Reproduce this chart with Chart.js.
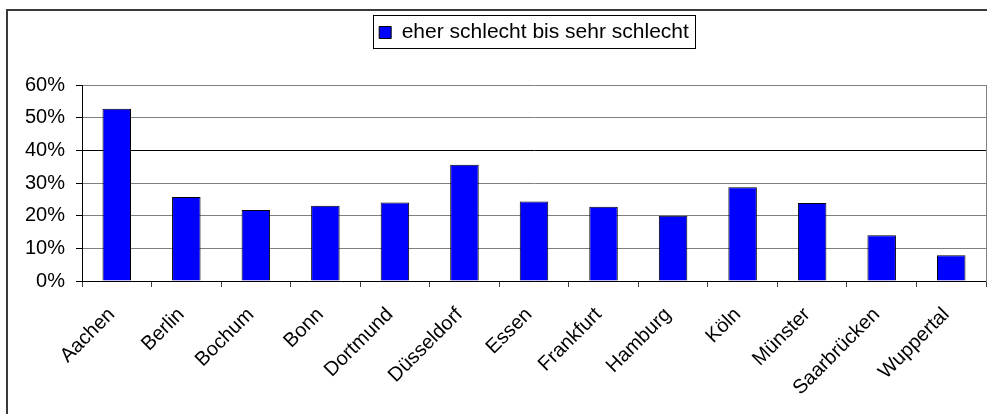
<!DOCTYPE html>
<html>
<head>
<meta charset="utf-8">
<script src="https://cdn.jsdelivr.net/npm/chart.js@4/dist/chart.umd.min.js"></script>
<style>
    html, body { margin: 0; padding: 0; background: #fff; overflow: hidden; }
    #wrap { position: relative; width: 987px; height: 414px; }
    #frame {
        position: absolute; left: 6px; top: 9px; width: 1100px; height: 500px;
        border-left: 2px solid #3a3a3a; border-top: 2px solid #3a3a3a;
        pointer-events: none;
    }
    #chart-box { position: absolute; left: 0; top: 0; width: 987px; height: 414px; }
</style>
</head>
<body>
<div id="wrap">
    <div id="frame"></div>
    <div id="chart-box"><canvas id="chart"></canvas></div>
</div>
<script>
    'use strict';

    const cities = ['Aachen', 'Berlin', 'Bochum', 'Bonn', 'Dortmund', 'Düsseldorf', 'Essen',
        'Frankfurt', 'Hamburg', 'Köln', 'Münster', 'Saarbrücken', 'Wuppertal'];
    const badShare = [52.7, 25.7, 21.7, 23.0, 24.0, 35.6, 24.3, 22.7, 20.0, 28.7, 23.9, 14.0, 7.9];
    const seriesLabel = 'eher schlecht bis sehr schlecht';
    const yTicks = [0, 10, 20, 30, 40, 50, 60];

    const fontFamily = "'Liberation Sans', Arial, sans-serif";

    // draw a thin frame round the legend, like the old office charts
    const legendFrame = {
        id: 'legendFrame',
        afterDraw(chart) {
            const legend = chart.legend;
            if (!legend || !legend.legendHitBoxes.length) {
                return;
            }
            const hb = legend.legendHitBoxes[0];
            const c = chart.ctx;
            c.save();
            c.strokeStyle = '#000';
            c.lineWidth = 1;
            c.strokeRect(Math.round(hb.left - 6) + 0.5, Math.round(hb.top - 7) + 0.5,
                Math.round(hb.width + 12), Math.round(hb.height + 12));
            c.restore();
        }
    };

    new Chart(document.getElementById('chart'), {
        type: 'bar',
        data: {
            labels: cities,
            datasets: [{
                label: seriesLabel,
                data: badShare,
                backgroundColor: '#0000ff',
                borderColor: '#000',
                borderWidth: 1,
                barPercentage: 0.41,
                categoryPercentage: 1
            }]
        },
        options: {
            responsive: true,
            maintainAspectRatio: false,
            animation: false,
            layout: { padding: { top: 12, left: 0, right: 0, bottom: 0 } },
            plugins: {
                legend: {
                    position: 'top',
                    fullSize: false,
                    labels: {
                        color: '#000',
                        font: { family: fontFamily, size: 21 },
                        boxWidth: 12,
                        boxHeight: 12,
                        padding: 10
                    }
                },
                // empty subtitle only keeps the gap between legend and plot
                subtitle: {
                    display: true,
                    text: '',
                    position: 'top',
                    weight: 900,
                    fullSize: false,
                    font: { size: 10 },
                    padding: { top: 20, bottom: 0 }
                },
                tooltip: { enabled: false }
            },
            scales: {
                x: {
                    grid: {
                        offset: true,
                        drawOnChartArea: false,
                        tickLength: 6,
                        color: '#404040'
                    },
                    border: { color: '#000', width: 1 },
                    ticks: {
                        color: '#000',
                        font: { family: fontFamily, size: 20 },
                        minRotation: 45,
                        maxRotation: 45,
                        padding: 16,
                        labelOffset: -5
                    },
                    afterFit(scale) { scale.height = 133; }
                },
                y: {
                    min: 0,
                    max: 60,
                    afterBuildTicks(scale) {
                        scale.ticks = yTicks.map(v => ({ value: v }));
                    },
                    grid: {
                        color: ctx => (ctx.tick && ctx.tick.value === 40) ? '#000' : '#808080',
                        tickColor: '#000',
                        tickLength: 6
                    },
                    border: { color: '#000', width: 1 },
                    ticks: {
                        color: '#000',
                        font: { family: fontFamily, size: 20 },
                        padding: 11,
                        callback: v => v + '%'
                    },
                    afterFit(scale) { scale.width = 82; }
                },
                yr: {
                    position: 'right',
                    grid: { drawOnChartArea: false, drawTicks: false },
                    border: { color: '#808080', width: 1 },
                    ticks: { display: false },
                    afterFit(scale) { scale.width = 1; }
                }
            }
        },
        plugins: [legendFrame]
    });
</script>
</body>
</html>
